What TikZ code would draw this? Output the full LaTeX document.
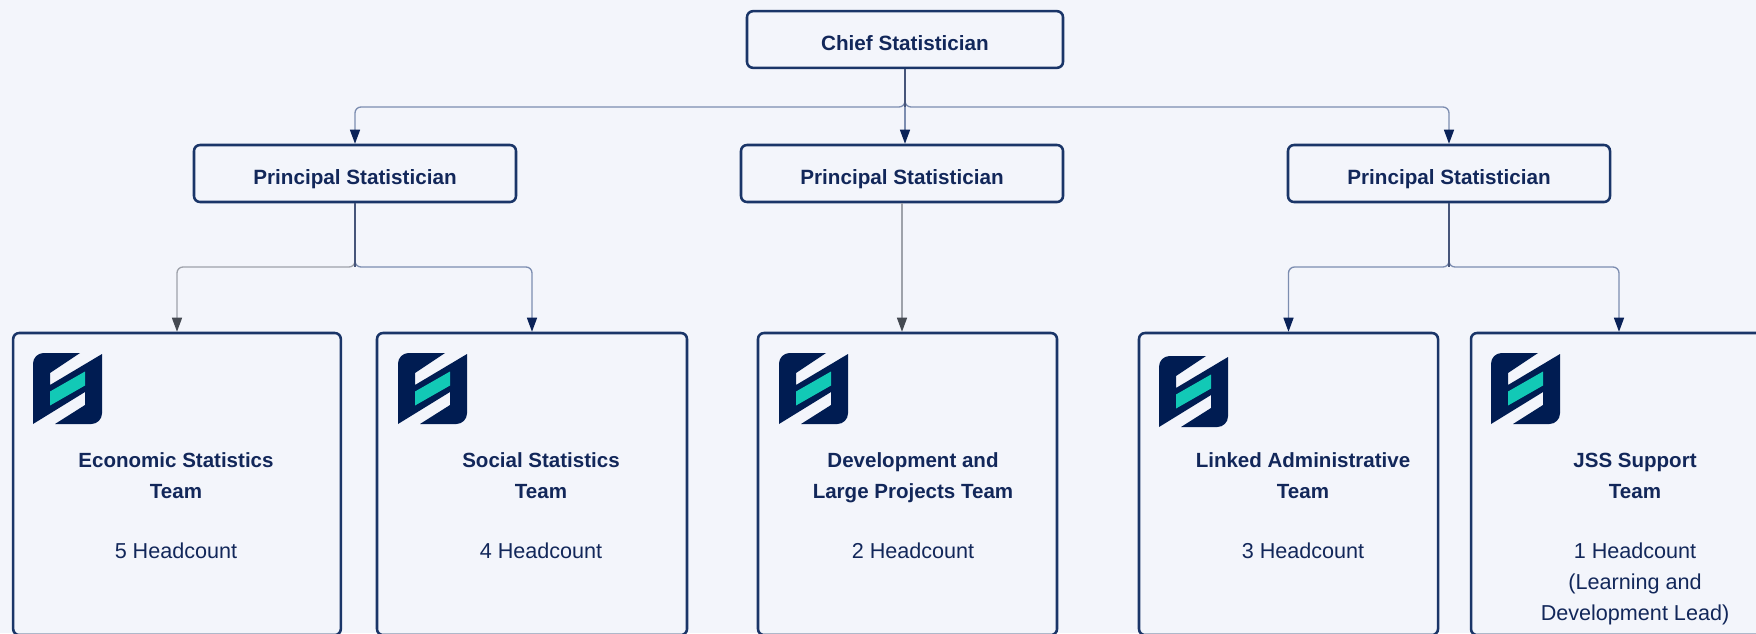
\documentclass[tikz,border=0pt]{standalone}
\usepackage{fontspec}
\setmainfont{Liberation Sans}
\definecolor{bgc}{HTML}{F3F5FB}
\definecolor{edgec}{HTML}{1A3568}
\definecolor{inkc}{HTML}{12275A}
\definecolor{logoc}{HTML}{001C52}
\definecolor{tealc}{HTML}{12C9B6}
\definecolor{stemc}{HTML}{46557A}
\definecolor{bluec}{HTML}{7C8DB0}
\definecolor{greyc}{HTML}{9EA2AA}
\definecolor{darktip}{HTML}{454A52}
\definecolor{navytip}{HTML}{0A2258}
\usetikzlibrary{arrows.meta}
\tikzset{
  x=0.75pt,y=-0.75pt,
  boxbase/.style={draw=edgec,line width=1.9pt,rounded corners=4.5pt,inner sep=0pt},
  rolebox/.style={boxbase},
  roletext/.style={text=inkc,anchor=base,inner sep=0pt,font=\fontsize{15.5}{18}\selectfont\bfseries},
  teambox/.style={boxbase},
  teamname/.style={text=inkc,align=center,anchor=north,font=\fontsize{15.4}{23.2}\selectfont\bfseries,inner sep=0pt},
  teamcount/.style={text=inkc,align=center,font=\fontsize{16.2}{23.2}\selectfont,inner sep=0pt},
  navyarrow/.style={draw=bluec,line width=1pt,rounded corners=4.5pt,-{Triangle[length=10.5pt,width=7.5pt,color=navytip]}},
  greyarrow/.style={draw=greyc,line width=1pt,rounded corners=4.5pt,-{Triangle[length=10.5pt,width=7.5pt,color=darktip]}},
  stem/.style={draw=stemc,line width=1pt},
  pics/logo/.style={code={
    \fill[logoc] (0,71) -- (0,12) [rounded corners=8pt] -- (0,0) [sharp corners] -- (47,0) -- (17,20) -- (17,32) -- (69,1) -- (69,60) [rounded corners=8pt] -- (69,71) [sharp corners] -- (22,71) -- (52,52) -- (52,39) -- cycle;
    \fill[tealc] (17,38.5) -- (52,18.5) -- (52,32.5) -- (17,52.5) -- cycle;
  }}
}
\begin{document}
\begin{tikzpicture}
\clip (0,0) rectangle (1756,633);
\fill[bgc] (0,0) rectangle (1756,633);
% role boxes
\node[rolebox,minimum width=237pt,minimum height=42.5pt] (chief) at (905,39.5) {};
\node[rolebox,minimum width=241.5pt,minimum height=42.75pt] (pl) at (355,173.5) {};
\node[rolebox,minimum width=241.5pt,minimum height=42.75pt] (pm) at (902,173.5) {};
\node[rolebox,minimum width=241.5pt,minimum height=42.75pt] (pr) at (1449,173.5) {};
\node[roletext] (chieft) at (905,50.5) {Chief Statistician};
\node[roletext] (plt) at (355,184) {Principal Statistician};
\node[roletext] (pmt) at (902,184) {Principal Statistician};
\node[roletext] (prt) at (1449,184) {Principal Statistician};
% team boxes
\node[teambox,minimum width=245.75pt,minimum height=226.5pt] (t1) at (177,484) {};
\node[teambox,minimum width=232.5pt,minimum height=226.5pt] (t2) at (532,484) {};
\node[teambox,minimum width=224.25pt,minimum height=226.5pt] (t3) at (907.5,484) {};
\node[teambox,minimum width=224.25pt,minimum height=226.5pt] (t4) at (1288.5,484) {};
\node[teambox,minimum width=222pt,minimum height=226.5pt] (t5) at (1619,484) {};
% logos
\pic at (33,353) {logo};
\pic at (398,353) {logo};
\pic at (779,353) {logo};
\pic at (1159,356) {logo};
\pic at (1491,353) {logo};
% team text
\node[teamname] (n1) at (176,452) {Economic Statistics\\Team};
\node[teamname] (n2) at (541,452) {Social Statistics\\Team};
\node[teamname] (n3) at (913,452) {Development and\\Large Projects Team};
\node[teamname] (n4) at (1303,452) {Linked Administrative\\Team};
\node[teamname] (n5) at (1635,452.5) {JSS Support\\Team};
\node[teamcount] (c1) at (176,551) {5 Headcount};
\node[teamcount] (c2) at (541,551) {4 Headcount};
\node[teamcount] (c3) at (913,551) {2 Headcount};
\node[teamcount] (c4) at (1303,551) {3 Headcount};
\node[teamcount,anchor=north] (c5) at (1635,543) {1 Headcount\\(Learning and\\Development Lead)};
% junction heights
\coordinate (j0) at (905,107);
\coordinate (jl) at (355,267);
\coordinate (jr) at (1449,267);
% connectors
\draw[navyarrow] (chief.south) -- (j0) -- (j0 -| pl.north) -- (pl.north);
\draw[navyarrow] (chief.south) -- (j0) -- (j0 -| pr.north) -- (pr.north);
\draw[navyarrow] (chief.south) -- (chief.south |- pm.north);
\draw[stem] (chief.south) -- (j0);
\draw[greyarrow] (pl.south) -- (jl) -- (jl -| t1.north) -- (t1.north);
\draw[navyarrow] (pl.south) -- (jl) -- (jl -| t2.north) -- (t2.north);
\draw[stem] (pl.south) -- (jl);
\draw[greyarrow] (pm.south) -- (pm.south |- t3.north);
\draw[navyarrow] (pr.south) -- (jr) -- (jr -| t4.north) -- (t4.north);
\draw[navyarrow] (pr.south) -- (jr) -- (jr -| t5.north) -- (t5.north);
\draw[stem] (pr.south) -- (jr);
\end{tikzpicture}
\end{document}
